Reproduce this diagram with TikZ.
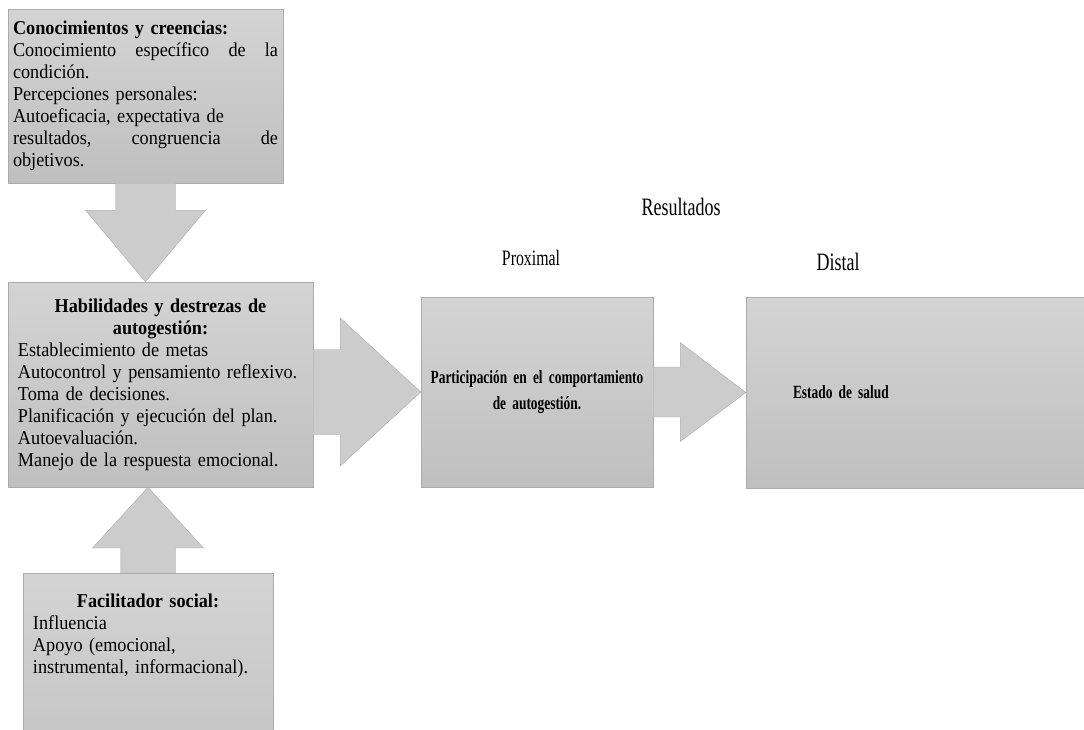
\documentclass[tikz,border=0pt]{standalone}
\usepackage{fontspec}
\setmainfont[FakeStretch=0.93, WordSpace=0.85]{Liberation Serif}
\newfontfamily\estrecha[FakeStretch=0.72]{Liberation Serif}
\newfontfamily\estrechanegra[FakeStretch=0.72, WordSpace=0.7]{Liberation Serif Bold}
\usetikzlibrary{calc}

\begin{document}
\begin{tikzpicture}[x=1pt, y=-1pt,
        caja/.style = {draw=black!33, top color=black!17, bottom color=black!25, inner ysep=0pt},
        flecha/.style = {draw=black!33, fill=black!20, line join=miter},
        texto/.style = {font=\fontsize{19.6}{22}\selectfont},
        titulo/.style = {font=\estrecha\fontsize{#1}{#1}\selectfont},
        negrita/.style = {font=\estrechanegra\fontsize{#1}{26}\selectfont}]
        \path[use as bounding box, clip] (0,0) rectangle (1084,729);

        % Boxes on the left
        \node[caja, texto, text width=265, inner xsep=5, minimum width=275, minimum height=174, align=left] (con) at (145.5,96) {%
                \textbf{Conocimientos y creencias:}\\
                Conocimiento\hfill específico\hfill de\hfill la\\
                condición.\\
                Percepciones personales:\\
                Autoeficacia, expectativa de\\
                resultados,\hfill congruencia\hfill de\\
                objetivos.};

        \node[caja, texto, text width=285, inner xsep=10, minimum width=305, minimum height=205, align=left] (hab) at (160.5,384.5) {%
                {\centering\textbf{Habilidades y destrezas de\\ autogestión:}\par}
                Establecimiento de metas\\
                Autocontrol y pensamiento reflexivo.\\
                Toma de decisiones.\\
                Planificación y ejecución del plan.\\
                Autoevaluación.\\
                Manejo de la respuesta emocional.};

        \node[caja, texto, text width=230, inner xsep=10, inner ysep=21, minimum width=250, align=left, anchor=north] (fac) at (148,573) {%
                {\centering\textbf{Facilitador social:}\par}
                Influencia\\
                Apoyo (emocional,\\
                instrumental, informacional).\rule[-120pt]{0pt}{0pt}};

        % Boxes on the right
        \node[caja, negrita=18.6, text width=226, inner xsep=3, minimum width=232, minimum height=190, align=center] (part) at (537,392) {%
                Participación en el comportamiento\\ de autogestión.};

        \node[caja, negrita=18.6, text width=334, inner xsep=10, minimum width=354, minimum height=191, align=left] (est) at (923,392.5) {%
                \hspace*{37pt}Estado de salud};

        % Headings
        \node[titulo=25] (res) at (681,207) {Resultados};
        \node[titulo=22] (prox) at (531,258) {Proximal};
        \node[titulo=25] (dist) at (838,262) {Distal};

        % Arrow con -> hab
        \draw[flecha] ($(con.south)+(-30,0)$) -- ($(con.south)+(-30,27)$) -- ($(con.south)+(-60,27)$)
                -- (con.south |- hab.north)
                -- ($(con.south)+(60,27)$) -- ($(con.south)+(30,27)$) -- ($(con.south)+(30,0)$) -- cycle;

        % Arrow fac -> hab
        \draw[flecha] ($(fac.north)+(-27.5,0)$) -- ($(fac.north)+(-27.5,-25)$) -- ($(fac.north)+(-55.5,-25)$)
                -- (fac.north |- hab.south)
                -- ($(fac.north)+(55.5,-25)$) -- ($(fac.north)+(27.5,-25)$) -- ($(fac.north)+(27.5,0)$) -- cycle;

        % Arrow hab -> part
        \coordinate (b1) at (hab.east |- part.west);
        \draw[flecha] ($(b1)+(0,-42.5)$) -- ($(b1)+(27,-42.5)$) -- ($(b1)+(27,-74)$)
                -- (part.west)
                -- ($(b1)+(27,74)$) -- ($(b1)+(27,42.5)$) -- ($(b1)+(0,42.5)$) -- cycle;

        % Arrow part -> est
        \draw[flecha] ($(part.east)+(0,-25)$) -- ($(part.east)+(27,-25)$) -- ($(part.east)+(27,-49.5)$)
                -- (est.west)
                -- ($(part.east)+(27,49.5)$) -- ($(part.east)+(27,25)$) -- ($(part.east)+(0,25)$) -- cycle;
\end{tikzpicture}
\end{document}
